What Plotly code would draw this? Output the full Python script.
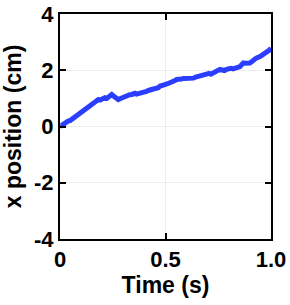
import plotly.graph_objects as go

time_s = [0.000, 0.006, 0.012, 0.018, 0.024, 0.032, 0.040, 0.048, 0.055, 0.063,
          0.071, 0.078, 0.085, 0.092, 0.100, 0.109, 0.118, 0.126, 0.134, 0.142,
          0.150, 0.158, 0.166, 0.174, 0.182, 0.190, 0.197, 0.205, 0.213, 0.221,
          0.229, 0.237, 0.245, 0.252, 0.260, 0.268, 0.276, 0.284, 0.292, 0.300,
          0.308, 0.315, 0.322, 0.331, 0.340, 0.348, 0.355, 0.363, 0.371, 0.379,
          0.387, 0.398, 0.410, 0.422, 0.435, 0.442, 0.450, 0.458, 0.466, 0.475,
          0.485, 0.492, 0.500, 0.510, 0.521, 0.529, 0.537, 0.545, 0.553, 0.564,
          0.575, 0.587, 0.600, 0.607, 0.615, 0.623, 0.632, 0.643, 0.655, 0.667,
          0.679, 0.690, 0.700, 0.707, 0.715, 0.721, 0.727, 0.735, 0.742, 0.750,
          0.758, 0.769, 0.780, 0.790, 0.800, 0.810, 0.820, 0.828, 0.837, 0.845,
          0.853, 0.861, 0.869, 0.877, 0.885, 0.892, 0.900, 0.908, 0.916, 0.924,
          0.932, 0.940, 0.948, 0.956, 0.964, 0.973, 0.982, 0.991, 1.000]
x_pos_cm = [0.05, 0.03, 0.06, 0.10, 0.13, 0.15, 0.20, 0.21, 0.25, 0.28,
            0.31, 0.36, 0.42, 0.46, 0.52, 0.57, 0.61, 0.63, 0.68, 0.72,
            0.79, 0.81, 0.86, 0.92, 0.96, 0.94, 0.97, 1.01, 1.02, 1.00,
            1.06, 1.10, 1.14, 1.09, 1.04, 0.99, 0.96, 0.99, 1.02, 1.05,
            1.08, 1.07, 1.10, 1.13, 1.14, 1.16, 1.18, 1.15, 1.16, 1.19,
            1.18, 1.22, 1.25, 1.29, 1.32, 1.31, 1.34, 1.35, 1.38, 1.44,
            1.48, 1.47, 1.50, 1.52, 1.55, 1.54, 1.58, 1.63, 1.67, 1.66,
            1.69, 1.71, 1.70, 1.73, 1.73, 1.70, 1.72, 1.76, 1.79, 1.82,
            1.85, 1.84, 1.87, 1.89, 1.86, 1.89, 1.91, 1.94, 1.97, 2.00,
            2.03, 2.01, 1.99, 2.03, 2.06, 2.07, 2.05, 2.07, 2.08, 2.10,
            2.13, 2.20, 2.26, 2.25, 2.24, 2.23, 2.26, 2.30, 2.33, 2.40,
            2.44, 2.45, 2.49, 2.53, 2.56, 2.60, 2.65, 2.71, 2.79]

x_ticks = [0, 0.5, 1.0]
x_tick_labels = ["0", "0.5", "1.0"]
y_ticks = [-4, -2, 0, 2, 4]
y_tick_labels = ["-4", "-2", "0", "2", "4"]

FONT = "Liberation Sans"

fig = go.Figure()
fig.add_trace(go.Scatter(x=time_s, y=x_pos_cm, mode="lines",
                         line=dict(color="#2b3dff", width=5), showlegend=False,
                         hoverinfo="skip"))

axis_common = dict(showline=True, linecolor="black", linewidth=2, mirror="ticks",
                   ticks="inside", ticklen=6, tickwidth=2, tickcolor="black",
                   showgrid=True, gridcolor="#ececec", gridwidth=1, zeroline=False,
                   automargin=False,
                   tickfont=dict(family=FONT, size=22, color="black"))

fig.update_xaxes(range=[0, 1], tickvals=x_ticks,
                 ticktext=[f"<b>{t}</b>" for t in x_tick_labels],
                 title=dict(text="<b>Time (s)</b>", standoff=4,
                            font=dict(family=FONT, size=23, color="black")),
                 **axis_common)
fig.update_yaxes(range=[-4, 4], tickvals=y_ticks,
                 ticktext=[f"<b>{t}</b>" for t in y_tick_labels],
                 title=dict(text="<b>x position (cm)</b>", standoff=6,
                            font=dict(family=FONT, size=23, color="black")),
                 **axis_common)

fig.update_layout(width=290, height=305, margin=dict(l=60, r=19, t=14, b=66),
                  plot_bgcolor="white", paper_bgcolor="white")

fig.write_html("out.html", config={"displayModeBar": False},
               post_script="document.body.style.margin='0';document.body.style.overflow='hidden';")
